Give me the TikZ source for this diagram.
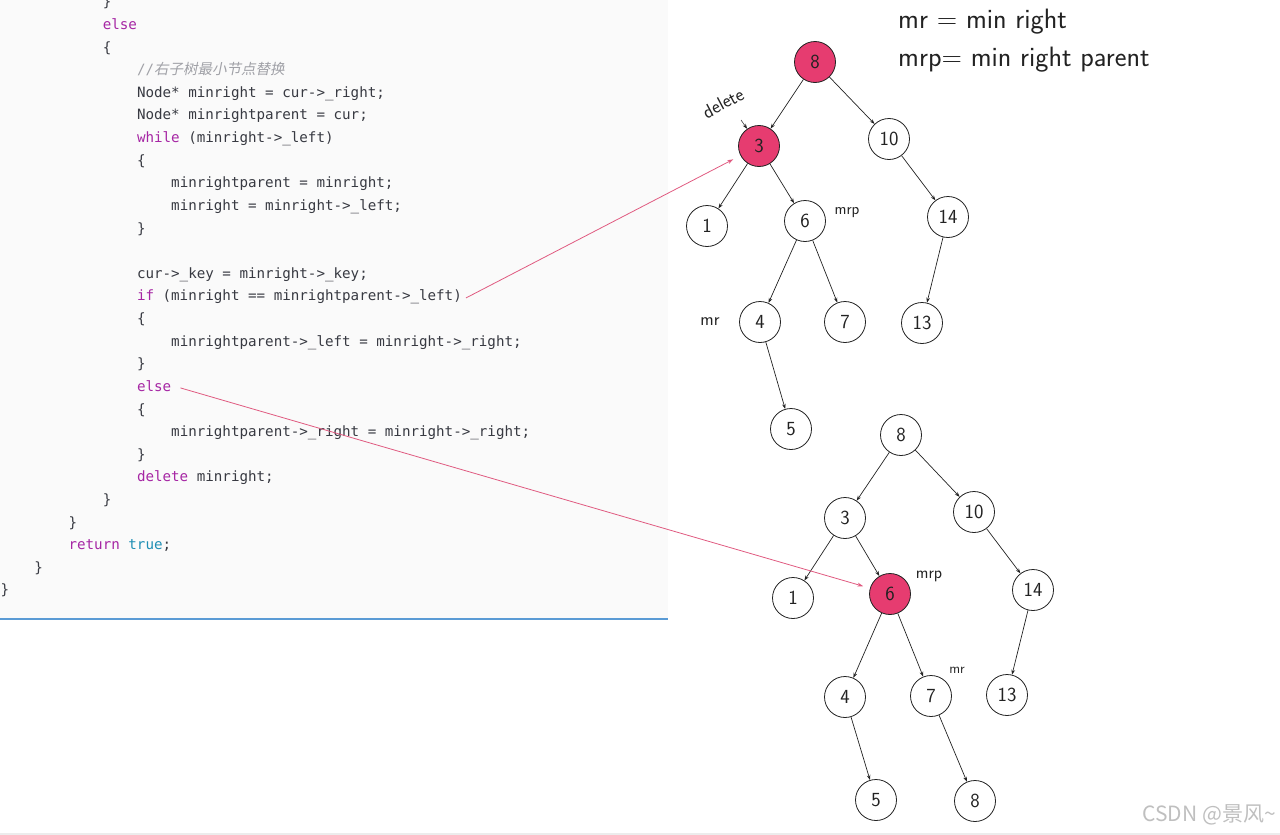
\documentclass[tikz,border=0pt]{standalone}
\usepackage{fontspec}
\setmainfont{DejaVu Sans}
\newfontfamily\codefont{DejaVu Sans Mono}
\newfontfamily\cjkfont[FakeSlant=0.2]{Noto Sans CJK SC}
\newfontfamily\wmfont{Noto Sans CJK SC}
\usetikzlibrary{arrows.meta}
\definecolor{kw}{HTML}{A626A4}
\definecolor{kwb}{HTML}{1F8FB5}
\definecolor{codetxt}{HTML}{383A42}
\definecolor{cmt}{HTML}{A0A1A7}
\definecolor{panelbg}{HTML}{FAFAFA}
\definecolor{bluerule}{HTML}{5A9BD5}
\definecolor{hot}{HTML}{E63C70}
\definecolor{hotline}{HTML}{E05A80}
\definecolor{ink}{HTML}{222222}
\newcommand{\kw}[1]{\textcolor{kw}{#1}}
\begin{document}
\begin{tikzpicture}[x=1pt,y=-1pt,
  code/.style={anchor=base west,inner sep=0pt,text=codetxt,
    font=\codefont\fontsize{14.2}{17}\selectfont},
  tnode/.style={circle,draw=ink,line width=0.8pt,minimum size=41pt,inner sep=0pt,
    font=\sffamily\fontsize{20}{20}\selectfont,text=ink},
  hotnode/.style={tnode,fill=hot},
  treearr/.style={draw=ink,line width=0.7pt,-{Stealth[length=5pt,width=3.6pt]}},
  pinkarr/.style={draw=hotline,line width=0.8pt,-{Stealth[length=6pt,width=4pt]}},
  hand/.style={inner sep=0pt,text=ink,font=\sffamily\fontsize{16}{16}\selectfont},
]
\useasboundingbox (0,0) rectangle (1280,835);
\clip (0,0) rectangle (1280,835);
% code panel
\fill[panelbg] (0,0) rectangle (668,619);
\draw[bluerule,line width=1.6pt] (0,619) -- (668,619);
\fill[gray!15] (0,833) rectangle (1280,835);

% code lines
\node[code] (l0)  at (102.6,6.8)   {\}};
\node[code] (l1)  at (102.6,29.4)  {\kw{else}};
\node[code] (l2)  at (102.6,52.0)  {\{};
\node[code,text=cmt] (l3)  at (136.8,74.7)  {//{\cjkfont\fontsize{14.5}{17}\selectfont 右子树最小节点替换}};
\node[code] (l4)  at (136.8,97.3)  {Node* minright = cur->\_right;};
\node[code] (l5)  at (136.8,119.9) {Node* minrightparent = cur;};
\node[code] (l6)  at (136.8,142.5) {\kw{while} (minright->\_left)};
\node[code] (l7)  at (136.8,165.1) {\{};
\node[code] (l8)  at (171.0,187.8) {minrightparent = minright;};
\node[code] (l9)  at (171.0,210.4) {minright = minright->\_left;};
\node[code] (l10) at (136.8,233.0) {\}};
\node[code] (l12) at (136.8,278.3) {cur->\_key = minright->\_key;};
\node[code] (l13) at (136.8,300.9) {\kw{if} (minright == minrightparent->\_left)};
\node[code] (l14) at (136.8,323.5) {\{};
\node[code] (l15) at (171.0,346.1) {minrightparent->\_left = minright->\_right;};
\node[code] (l16) at (136.8,368.7) {\}};
\node[code] (l17) at (136.8,391.4) {\kw{else}};
\node[code] (l18) at (136.8,414.0) {\{};
\node[code] (l19) at (171.0,436.6) {minrightparent->\_right = minright->\_right;};
\node[code] (l20) at (136.8,459.2) {\}};
\node[code] (l21) at (136.8,481.8) {\kw{delete} minright;};
\node[code] (l22) at (102.6,504.5) {\}};
\node[code] (l23) at (68.4,527.1)  {\}};
\node[code] (l24) at (68.4,549.7)  {\kw{return} \textcolor{kwb}{true};};
\node[code] (l25) at (34.2,572.3)  {\}};
\node[code] (l26) at (0.5,594.9)   {\}};

% tree 1
\node[hotnode] (a8)  at (815,62)  {8};
\node[hotnode] (a3)  at (759,146) {3};
\node[tnode]   (a10) at (889,139) {10};
\node[tnode]   (a1)  at (707,226) {1};
\node[tnode]   (a6)  at (805,221) {6};
\node[tnode]   (a14) at (948,217) {14};
\node[tnode]   (a4)  at (760,322) {4};
\node[tnode]   (a7)  at (845,322) {7};
\node[tnode]   (a13) at (922,323) {13};
\node[tnode]   (a5)  at (791,429) {5};
\draw[treearr] (a8) -- (a3);
\draw[treearr] (a8) -- (a10);
\draw[treearr] (a3) -- (a1);
\draw[treearr] (a3) -- (a6);
\draw[treearr] (a10) -- (a14);
\draw[treearr] (a6) -- (a4);
\draw[treearr] (a6) -- (a7);
\draw[treearr] (a14) -- (a13);
\draw[treearr] (a4) -- (a5);

% tree 2
\node[tnode]   (b8)  at (901,435) {8};
\node[tnode]   (b3)  at (845,518) {3};
\node[tnode]   (b10) at (974,512) {10};
\node[tnode]   (b1)  at (793,598) {1};
\node[hotnode] (b6)  at (890,594) {6};
\node[tnode]   (b14) at (1033,590) {14};
\node[tnode]   (b4)  at (845,697) {4};
\node[tnode]   (b7)  at (931,696) {7};
\node[tnode]   (b13) at (1007,695) {13};
\node[tnode]   (b5)  at (876,800) {5};
\node[tnode]   (b8b) at (975,801) {8};
\draw[treearr] (b8) -- (b3);
\draw[treearr] (b8) -- (b10);
\draw[treearr] (b3) -- (b1);
\draw[treearr] (b3) -- (b6);
\draw[treearr] (b10) -- (b14);
\draw[treearr] (b6) -- (b4);
\draw[treearr] (b6) -- (b7);
\draw[treearr] (b14) -- (b13);
\draw[treearr] (b4) -- (b5);
\draw[treearr] (b7) -- (b8b);

% labels
\node[hand,rotate=28,font=\sffamily\fontsize{19}{19}\selectfont] (del) at (723,103) {delete};
\coordinate (delarr) at (741,120);
\draw[treearr,line width=0.5pt] (delarr) -- (a3);
\node[hand] (mrp1) at (847,213) {mrp};
\node[hand,font=\sffamily\fontsize{18}{18}\selectfont] (mr1) at (710,322) {mr};
\node[hand,font=\sffamily\fontsize{17}{17}\selectfont] (mrp2) at (929,576) {mrp};
\node[hand,font=\sffamily\fontsize{14}{14}\selectfont] (mr2) at (957,670) {mr};

\node[hand,anchor=west,font=\sffamily\fontsize{28}{28}\selectfont] (def1) at (898,22) {mr = min right};
\node[hand,anchor=west,font=\sffamily\fontsize{28}{28}\selectfont] (def2) at (898,60) {mrp= min right parent};

% pink connectors
\coordinate (p1) at ([xshift=4pt,yshift=3pt]l13.base east);
\coordinate (p2) at ([xshift=9pt,yshift=3.5pt]l17.base east);
\draw[pinkarr,shorten >=8pt] (p1) -- (a3);
\draw[pinkarr,shorten >=7pt] (p2) -- (b6);

% watermark
\node[anchor=east,inner sep=0pt,text=gray!50,font=\wmfont\fontsize{21}{21}\selectfont] (wm) at (1276,815) {CSDN @景风\textasciitilde};
\end{tikzpicture}
\end{document}
